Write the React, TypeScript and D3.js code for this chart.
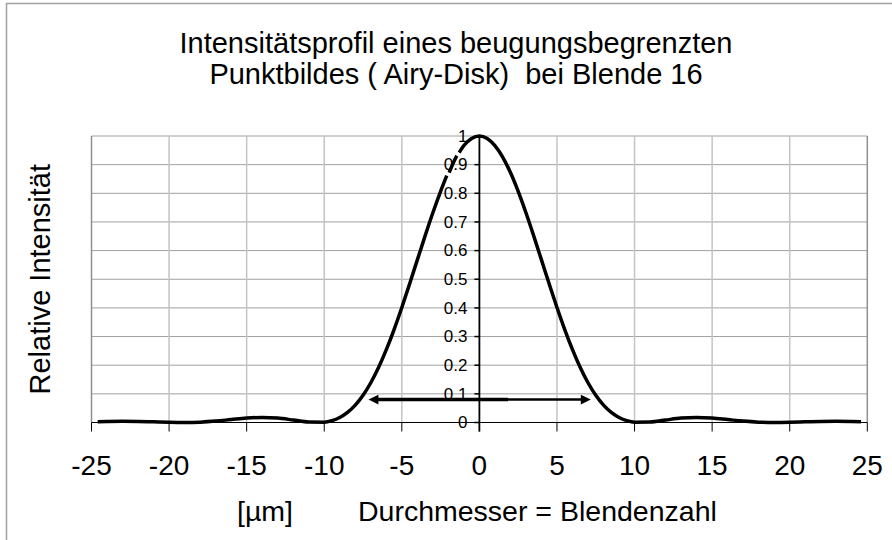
import React from "react";
import * as d3 from "d3";

const titleLines = [
  "Intensitätsprofil eines beugungsbegrenzten",
  "Punktbildes ( Airy-Disk)  bei Blende 16",
];
const yAxisTitle = "Relative Intensität";
const xUnitLabel = "[µm]";
const xAxisTitle = "Durchmesser = Blendenzahl";

const xTicks = [-25, -20, -15, -10, -5, 0, 5, 10, 15, 20, 25];
const xTickLabels = ["-25", "-20", "-15", "-10", "-5", "0", "5", "10", "15", "20", "25"];
const yTicks = [0, 0.1, 0.2, 0.3, 0.4, 0.5, 0.6, 0.7, 0.8, 0.9, 1];
const yTickLabels = ["0", "0.1", "0.2", "0.3", "0.4", "0.5", "0.6", "0.7", "0.8", "0.9", "1"];

// position in µm and relative intensity (null = missing point / gap in series)
const positionUm = [
  -24.6, -24, -23, -22, -21, -20, -19, -18, -17, -16, -15, -14, -13, -12, -11, -10,
  -9.5, -9, -8.5, -8, -7.5, -7, -6.5, -6, -5.5, -5, -4.5, -4, -3.5, -3, -2.5,
  -2.1, -2.02, -1.95, -1.5, -1.45, -1.375, -1.3, -1, -0.5,
  0, 0.5, 1, 1.5, 2, 2.5, 3, 3.5, 4, 4.5, 5, 5.5, 6, 6.5, 7, 7.5, 8, 8.5, 9, 9.5,
  10, 11, 12, 13, 14, 15, 16, 17, 18, 19, 20, 21, 22, 23, 24, 24.6,
];
const intensity: (number | null)[] = [
  0.0029, 0.0035, 0.0041, 0.0037, 0.0022, 0.0007, 0.0, 0.0013, 0.0049, 0.0102, 0.0154, 0.0175, 0.0154, 0.0087, 0.0016, 0.0012,
  0.0066, 0.0175, 0.0351, 0.0606, 0.095, 0.1387, 0.1918, 0.2541, 0.3244, 0.4015, 0.4834, 0.5676, 0.6515, 0.7322, 0.8068,
  0.862, null, 0.872, 0.9265, 0.931, null, 0.942, 0.9667, 0.9916,
  1.0, 0.9916, 0.9667, 0.9265, 0.8725, 0.8068, 0.7322, 0.6515, 0.5676, 0.4834, 0.4015, 0.3244, 0.2541, 0.1918, 0.1387, 0.095, 0.0606, 0.0351, 0.0175, 0.0066,
  0.0012, 0.0016, 0.0087, 0.0154, 0.0175, 0.0154, 0.0102, 0.0049, 0.0013, 0.0, 0.0007, 0.0022, 0.0037, 0.0041, 0.0035, 0.0029,
];

// diameter arrow annotation
const arrowFrom = -7.15;
const arrowTo = 7.18;
const arrowSplit = 1.85;
const arrowLevel = 0.08;

const W = 892;
const H = 540;
const FONT = "'Liberation Sans', Arial, Helvetica, sans-serif";

export default function App() {
  const x = d3.scaleLinear().domain([-25, 25]).range([91.5, 867.3]);
  const y = d3.scaleLinear().domain([0, 1]).range([422.5, 136]);

  const pts: [number, number | null][] = positionUm.map((p, i) => [p, intensity[i]]);
  const line = d3
    .line<[number, number | null]>()
    .defined((d) => d[1] != null)
    .x((d) => x(d[0]))
    .y((d) => y(d[1] as number))
    .curve(d3.curveMonotoneX);

  const ax = x(0);
  const ay = y(arrowLevel);
  const headL = 10;
  const headW = 4.8;

  return (
    <svg
      width={W}
      height={H}
      style={{ position: "absolute", left: 0, top: 0, background: "#fff" }}
      fontFamily={FONT}
    >
      <rect x={0} y={0} width={W} height={H} fill="#fff" />
      <rect x={6.5} y={3.5} width={W + 20} height={H + 20} fill="none" stroke="#a0a0a0" strokeWidth={1.5} />

      {/* title */}
      {titleLines.map((t, i) => (
        <text
          key={i}
          x={456}
          y={52.5 + i * 31}
          textAnchor="middle"
          fontSize={29}
          fill="#000"
          style={{ whiteSpace: "pre" }}
        >
          {t}
        </text>
      ))}

      {/* horizontal gridlines */}
      {yTicks.map((t, i) => (
        <line key={"hg" + i} x1={x(-25)} x2={x(25)} y1={y(t)} y2={y(t)} stroke="#a0a0a0" strokeWidth={1} />
      ))}
      {/* vertical gridlines */}
      {xTicks
        .filter((t) => t !== 0 && Math.abs(t) !== 25)
        .map((t, i) => (
          <line key={"vg" + i} x1={x(t)} x2={x(t)} y1={y(1)} y2={y(0)} stroke="#c4c4c4" strokeWidth={1.5} />
        ))}
      {/* plot border */}
      <line x1={x(-25)} x2={x(-25)} y1={y(1)} y2={y(0)} stroke="#909090" strokeWidth={1.5} />
      <line x1={x(25)} x2={x(25)} y1={y(1)} y2={y(0)} stroke="#909090" strokeWidth={1.5} />

      {/* x axis */}
      <line x1={x(-25)} x2={x(25)} y1={y(0)} y2={y(0)} stroke="#000" strokeWidth={1} />
      {xTicks.map((t, i) => (
        <g key={"xt" + i}>
          <line x1={x(t)} x2={x(t)} y1={y(0)} y2={y(0) + 9} stroke="#000" strokeWidth={1} />
          <text x={x(t)} y={475} textAnchor="middle" fontSize={28} fill="#000">
            {xTickLabels[i]}
          </text>
        </g>
      ))}

      {/* y axis at x = 0 */}
      <line x1={ax} x2={ax} y1={y(1)} y2={y(0) + 9} stroke="#000" strokeWidth={1.8} />
      {yTicks.map((t, i) => (
        <g key={"yt" + i}>
          <line x1={ax - 5} x2={ax} y1={y(t)} y2={y(t)} stroke="#000" strokeWidth={1.5} />
          <text x={ax - 12} y={y(t) + 5.8} textAnchor="end" fontSize={17} fill="#000">
            {yTickLabels[i]}
          </text>
        </g>
      ))}

      {/* intensity curve */}
      <path d={line(pts) ?? ""} fill="none" stroke="#000" strokeWidth={3.5} strokeLinejoin="round" />

      {/* diameter arrow */}
      <line x1={x(arrowFrom) + headL - 1} x2={x(arrowSplit)} y1={ay} y2={ay} stroke="#000" strokeWidth={3.5} />
      <line x1={x(arrowFrom) + headL - 1} x2={x(arrowTo) - headL + 1} y1={ay} y2={ay} stroke="#000" strokeWidth={2.5} />
      <path
        d={`M${x(arrowFrom)},${ay} L${x(arrowFrom) + headL},${ay - headW} L${x(arrowFrom) + headL},${ay + headW} Z`}
        fill="#000"
      />
      <path
        d={`M${x(arrowTo)},${ay} L${x(arrowTo) - headL},${ay - headW} L${x(arrowTo) - headL},${ay + headW} Z`}
        fill="#000"
      />

      {/* axis titles */}
      <text
        transform={`translate(50, ${(y(0) + y(1)) / 2}) rotate(-90)`}
        textAnchor="middle"
        fontSize={29}
        fill="#000"
      >
        {yAxisTitle}
      </text>
      <text x={237} y={520.5} fontSize={28.5} fill="#000">
        {xUnitLabel}
      </text>
      <text x={358} y={520.5} fontSize={28.5} fill="#000">
        {xAxisTitle}
      </text>
    </svg>
  );
}
